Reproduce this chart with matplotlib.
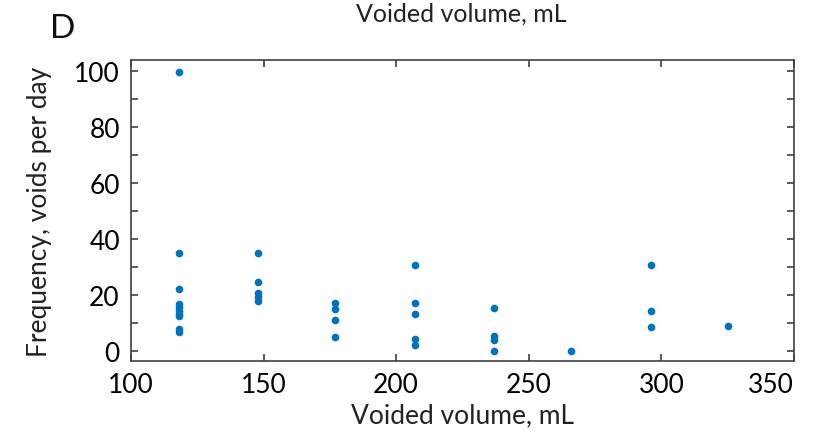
import matplotlib.pyplot as plt
from matplotlib.ticker import MultipleLocator

# Voided volume (mL), grouped by 1-oz bins
vol_118 = [99.5, 35, 22.1, 16.8, 15.6, 14.4, 13.2, 12.6, 7.9, 6.9]
vol_148 = [35, 24.6, 20.7, 19.3, 17.9]
vol_177 = [17.1, 14.8, 11.2, 4.9]
vol_207 = [30.7, 17.1, 13.2, 4.3, 2.1]
vol_237 = [15.4, 5.4, 3.9, 0]
vol_266 = [0]
vol_296 = [30.7, 14.4, 8.6]
vol_325 = [9.0]

volumes = [118, 148, 177, 207, 237, 266, 296, 325]
freqs = [vol_118, vol_148, vol_177, vol_207, vol_237, vol_266, vol_296, vol_325]

x = []
y = []
for v, f in zip(volumes, freqs):
    x += [v] * len(f)
    y += f

plt.rcParams['font.family'] = ['Lato', 'DejaVu Sans']

fig = plt.figure(figsize=(8.13, 4.35), dpi=100)
ax = fig.add_axes([0.1611, 0.1678, 0.8155, 0.692])

ax.plot(x, y, 'o', color='#0072BD', markersize=5.5, markeredgewidth=0)

ax.set_xlim(100, 350)
ax.set_ylim(-3.6, 103.9)
ax.set_xticks([100, 150, 200, 250, 300, 350])
ax.set_yticks([0, 20, 40, 60, 80, 100])
ax.yaxis.set_minor_locator(MultipleLocator(10))

ax.tick_params(which='both', direction='in', top=True, right=True,
               labelsize=19, color='#404040', width=1.2, pad=8)
ax.tick_params(which='major', length=5)
ax.tick_params(which='minor', length=5)
# last x label would run off the right edge
ax.get_xticklabels()[-1].set_horizontalalignment('right')
for s in ax.spines.values():
    s.set_color('#404040')
    s.set_linewidth(1.2)

ax.set_xlabel('Voided volume, mL', fontsize=19, color='#222222', labelpad=4)
ax.set_ylabel('Frequency, voids per day', fontsize=19, color='#222222', labelpad=16)

fig.text(0.077, 0.9, 'D', fontsize=24, color='#111111', va='bottom', ha='center')
fig.text(0.568, 1 - 22 / 435, 'Voided volume, mL', fontsize=18, color='#222222',
         ha='center', va='baseline')

fig.savefig('out.png', dpi=100)
